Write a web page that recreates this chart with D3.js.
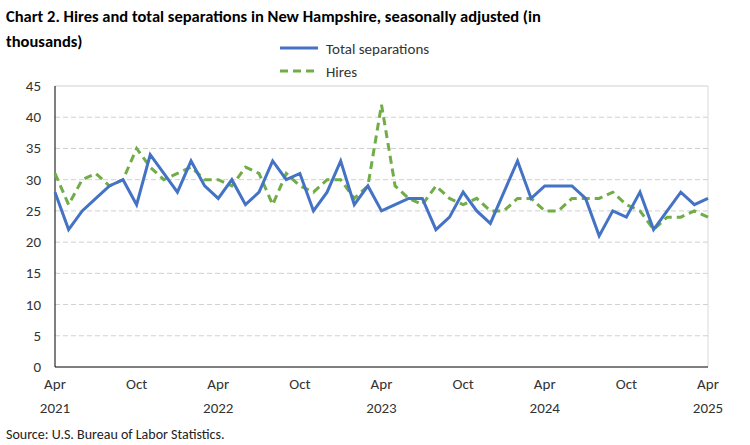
<!DOCTYPE html>
<html><head><meta charset="utf-8">
<script src="https://cdn.jsdelivr.net/npm/d3@7"></script>
<style>body{margin:0;background:#fff;font-family:Calibri,Carlito,"Liberation Sans",Arial,sans-serif;}</style>
</head><body><svg id="c" width="750" height="445"></svg>
<script>
// Data, Apr 2021 .. Apr 2025 (monthly)
const separations = [28,22,25,27,29,30,26,34,31, 28,33,29,27,30,26,28,33,30,31,25,28, 33,26,29,25,26,27,27,22,24,28,25,23, 28,33,27,29,29,29,27,21,25,24,28,22, 25,28,26,27];
const hires = [31,26,30,31,29,30,35,32,30, 31,32,30,30,29,32,31,26,31,29,28,30, 30,27,29,42,29,27,26,29,27,26,27,25, 25,27,27,25,25,27,27,27,28,26,25,22, 24,24,25,24];
const yTicks = [0,5,10,15,20,25,30,35,40,45];
const tickMonths = ['Apr','Oct','Apr','Oct','Apr','Oct','Apr','Oct','Apr'];
const tickYears = {0:'2021',12:'2022',24:'2023',36:'2024',48:'2025'};

const svg = d3.select('#c');
const plotL = 55, plotR = 708, plotT = 86, plotB = 367;
const x = d3.scaleLinear().domain([0, 48]).range([plotL, plotR]);
const y = d3.scaleLinear().domain([0, 45]).range([plotB, plotT]);

svg.append('text').attr('x', 6).attr('y', 22).attr('font-size', 16.5).attr('font-weight', 'bold')
    .text('Chart 2. Hires and total separations in New Hampshire, seasonally adjusted (in');
svg.append('text').attr('x', 6).attr('y', 47).attr('font-size', 16.5).attr('font-weight', 'bold')
    .text('thousands)');

// gridlines
svg.append('g').selectAll('line').data(yTicks.filter(d => d > 0)).enter().append('line')
    .attr('x1', plotL).attr('x2', plotR).attr('y1', d => y(d)).attr('y2', d => y(d))
    .attr('stroke', '#d0d0d0').attr('stroke-dasharray', d => d === 45 ? null : '5,3');
svg.append('line').attr('x1', plotR).attr('x2', plotR).attr('y1', plotT).attr('y2', plotB).attr('stroke', '#d9d9d9');

// y axis labels
svg.append('g').selectAll('text').data(yTicks).enter().append('text')
    .attr('x', 41).attr('y', d => y(d) + 5).attr('text-anchor', 'end').attr('font-size', 15).attr('fill', '#333')
    .text(d => d);
svg.append('line').attr('x1', plotL).attr('x2', plotL).attr('y1', plotT).attr('y2', plotB).attr('stroke', '#000');
svg.append('line').attr('x1', plotL).attr('x2', plotR).attr('y1', plotB).attr('y2', plotB).attr('stroke', '#000');

// x labels
tickMonths.forEach((m, i) => {
    svg.append('text').attr('x', x(i * 6)).attr('y', 389).attr('text-anchor', 'middle').attr('font-size', 15).attr('fill', '#333').text(m);
});
Object.entries(tickYears).forEach(([k, v]) => {
    svg.append('text').attr('x', x(+k)).attr('y', 413).attr('text-anchor', 'middle').attr('font-size', 15).attr('fill', '#333').text(v);
});

const line = d3.line().x((d, i) => x(i)).y(d => y(d));
svg.append('path').datum(hires).attr('d', line).attr('fill', 'none')
    .attr('stroke', '#70ad47').attr('stroke-width', 3).attr('stroke-dasharray', '8,5');
svg.append('path').datum(separations).attr('d', line).attr('fill', 'none')
    .attr('stroke', '#4472c4').attr('stroke-width', 3);

// legend
const lg = svg.append('g');
lg.append('line').attr('x1', 280).attr('x2', 318).attr('y1', 48).attr('y2', 48).attr('stroke', '#4472c4').attr('stroke-width', 3);
lg.append('text').attr('x', 326).attr('y', 54).attr('font-size', 15).attr('fill', '#333').text('Total separations');
lg.append('line').attr('x1', 280).attr('x2', 318).attr('y1', 71).attr('y2', 71).attr('stroke', '#70ad47').attr('stroke-width', 3).attr('stroke-dasharray', '8,5');
lg.append('text').attr('x', 326).attr('y', 77).attr('font-size', 15).attr('fill', '#333').text('Hires');

svg.append('text').attr('x', 6).attr('y', 439).attr('font-size', 14).attr('fill', '#222').text('Source: U.S. Bureau of Labor Statistics.');
</script></body></html>
